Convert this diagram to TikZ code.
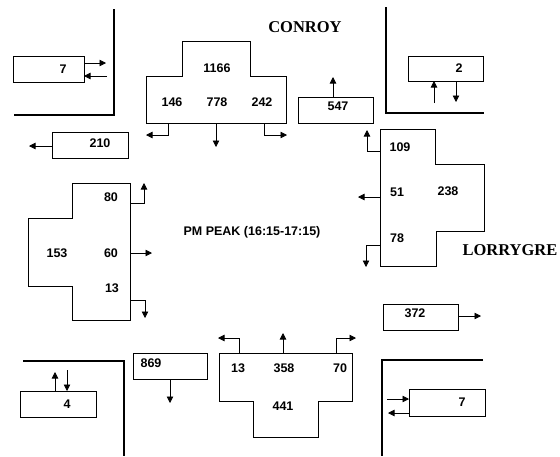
\documentclass[tikz,border=0pt]{standalone}
\usepackage{fontspec}
\setmainfont{Liberation Sans}
\newfontfamily\serifbold{Liberation Serif}
\usetikzlibrary{arrows.meta}
\tikzset{
  box/.style={draw, line width=0.8pt},
  corner/.style={draw, line width=2.4pt},
  flow/.style={draw, line width=0.8pt, -{Triangle[length=6.5pt,width=6.5pt]}},
  num/.style={font=\bfseries\fontsize{12.5}{15}\selectfont, inner sep=0pt},
  street/.style={font=\serifbold\bfseries\fontsize{16.5}{19}\selectfont, inner sep=0pt},
}
\begin{document}
\begin{tikzpicture}[x=1pt,y=-1pt]
\useasboundingbox (0,0) rectangle (560,456);

% ---------- street names ----------
\node[street] (conroy) at (305,27) {CONROY};
\node[street] (lorry) at (510,250) {LORRYGRE};
\node[num] (peak) at (252,232) {PM PEAK (16:15-17:15)};

% ---------- corners ----------
\draw[corner] (114,9) -- (114,115) -- (14,115);
\draw[corner] (386,7) -- (386,113) -- (484,113);
\draw[corner] (23,361) -- (124,361) -- (124,456);
\draw[corner] (483,360) -- (382,360) -- (382,456);

% ---------- top-left box 7 ----------
\draw[box] (13,56) rectangle (84,82);
\node[num] (tl7) at (63,69) {7};
\coordinate (tlA) at (84,63); \coordinate (tlB) at (106,63);
\coordinate (tlC) at (107,76); \coordinate (tlD) at (84,76);
\draw[flow] (tlA) -- (tlB);
\draw[flow] (tlC) -- (tlD);

% ---------- box 210 ----------
\draw[box] (52,132) rectangle (128,158);
\node[num] (n210) at (100,143) {210};
\coordinate (a210) at (52,146); \coordinate (e210) at (29,146);
\draw[flow] (a210) -- (e210);

% ---------- north approach ----------
\draw[box] (182,41) -- (250,41) -- (250,76) -- (286,76) -- (286,123) -- (146,123) -- (146,76) -- (182,76) -- cycle;
\node[num] (n1166) at (217,68) {1166};
\node[num] (n146) at (172,102) {146};
\node[num] (n778) at (217,102) {778};
\node[num] (n242) at (262,102) {242};
\coordinate (nL0) at (168,123); \coordinate (nL1) at (146,135);
\coordinate (nM0) at (216,123); \coordinate (nM1) at (216,147);
\coordinate (nR0) at (264,123); \coordinate (nR1) at (287,135);
\draw[flow] (nL0) |- (nL1);
\draw[flow] (nM0) -- (nM1);
\draw[flow] (nR0) |- (nR1);

% ---------- box 547 ----------
\draw[box] (298,97) rectangle (373,123);
\node[num] (n547) at (338,106) {547};
\coordinate (a547) at (333,97); \coordinate (e547) at (333,77);
\draw[flow] (a547) -- (e547);

% ---------- top-right box 2 ----------
\draw[box] (408,56) rectangle (483,81);
\node[num] (tr2) at (459,68) {2};
\coordinate (trA) at (434,103); \coordinate (trB) at (434,81);
\coordinate (trC) at (456,81); \coordinate (trD) at (456,102);
\draw[flow] (trA) -- (trB);
\draw[flow] (trC) -- (trD);

% ---------- east approach ----------
\draw[box] (380,129) -- (435,129) -- (435,164) -- (484,164) -- (484,231) -- (436,231) -- (436,266) -- (380,266) -- cycle;
\node[num] (n109) at (400,147) {109};
\node[num] (n51) at (397,192) {51};
\node[num] (n238) at (448,191) {238};
\node[num] (n78) at (397,238) {78};
\coordinate (eT0) at (380,151); \coordinate (eT1) at (367,130);
\coordinate (eM0) at (380,197); \coordinate (eM1) at (358,197);
\coordinate (eB0) at (380,245); \coordinate (eB1) at (366,267);
\draw[flow] (eT0) -| (eT1);
\draw[flow] (eM0) -- (eM1);
\draw[flow] (eB0) -| (eB1);

% ---------- box 372 ----------
\draw[box] (383,304) rectangle (458,330);
\node[num] (n372) at (415,313) {372};
\coordinate (a372) at (458,316); \coordinate (e372) at (481,316);
\draw[flow] (a372) -- (e372);

% ---------- west approach ----------
\draw[box] (72,183) -- (130,183) -- (130,320) -- (72,320) -- (72,286) -- (28,286) -- (28,218) -- (72,218) -- cycle;
\node[num] (n80) at (111,197) {80};
\node[num] (n153) at (57,253) {153};
\node[num] (n60) at (111,253) {60};
\node[num] (n13w) at (112,288) {13};
\coordinate (wT0) at (130,203); \coordinate (wT1) at (144,183);
\coordinate (wM0) at (130,253); \coordinate (wM1) at (152,253);
\coordinate (wB0) at (130,300); \coordinate (wB1) at (145,318);
\draw[flow] (wT0) -| (wT1);
\draw[flow] (wM0) -- (wM1);
\draw[flow] (wB0) -| (wB1);

% ---------- bottom-left box 4 ----------
\draw[box] (20,391) rectangle (96,417);
\node[num] (bl4) at (67,404) {4};
\coordinate (blA) at (55,391); \coordinate (blB) at (55,372);
\coordinate (blC) at (67,370); \coordinate (blD) at (67,391);
\draw[flow] (blA) -- (blB);
\draw[flow] (blC) -- (blD);

% ---------- box 869 ----------
\draw[box] (133,353) rectangle (207,379);
\node[num] (n869) at (151,363) {869};
\coordinate (a869) at (170,379); \coordinate (e869) at (170,403);
\draw[flow] (a869) -- (e869);

% ---------- south approach ----------
\draw[box] (219,353) -- (352,353) -- (352,401) -- (318,401) -- (318,437) -- (253,437) -- (253,401) -- (219,401) -- cycle;
\node[num] (n13s) at (238,368) {13};
\node[num] (n358) at (284,368) {358};
\node[num] (n70) at (340,368) {70};
\node[num] (n441) at (283,406) {441};
\coordinate (sL0) at (239,353); \coordinate (sL1) at (218,338);
\coordinate (sM0) at (283,353); \coordinate (sM1) at (283,333);
\coordinate (sR0) at (336,353); \coordinate (sR1) at (356,338);
\draw[flow] (sL0) |- (sL1);
\draw[flow] (sM0) -- (sM1);
\draw[flow] (sR0) |- (sR1);

% ---------- bottom-right box 7 ----------
\draw[box] (409,389) rectangle (485,416);
\node[num] (br7) at (462,402) {7};
\coordinate (brA) at (387,399); \coordinate (brB) at (409,399);
\coordinate (brC) at (409,413); \coordinate (brD) at (388,413);
\draw[flow] (brA) -- (brB);
\draw[flow] (brC) -- (brD);
\end{tikzpicture}
\end{document}
